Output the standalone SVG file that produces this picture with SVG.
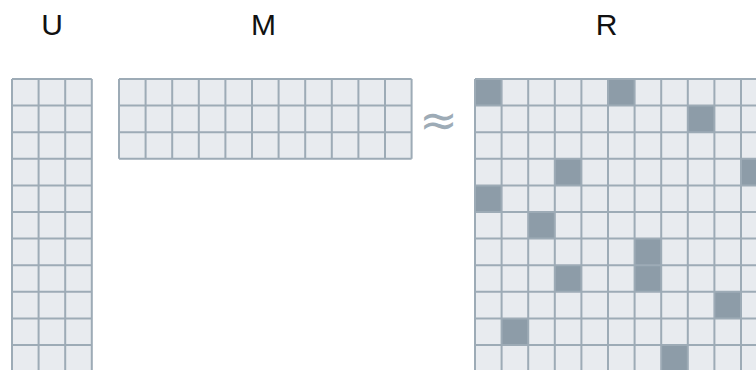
<svg xmlns="http://www.w3.org/2000/svg" width="756" height="370" viewBox="0 0 756 370">
<style>
.bg{fill:#e8ebef}
.dk{fill:#8d9ca8}
.ln{fill:none;stroke:#9dabb6;stroke-width:2}
.lbl{font-family:"Liberation Sans",Arial,sans-serif;font-size:30px;fill:#111;text-anchor:middle}
.op{font-family:"DejaVu Sans","Liberation Sans",sans-serif;font-size:46px;fill:#9dabb6;text-anchor:middle}
</style>
<rect width="756" height="370" fill="#fff"/>
<g id="label-U"><text class="lbl" x="52" y="35">U</text></g>
<g id="label-M"><text class="lbl" x="263.5" y="35">M</text></g>
<g id="label-R"><text class="lbl" x="606.5" y="35">R</text></g>
<g id="U">
<rect class="bg" x="12" y="79" width="79.8" height="292.6"/>
<path class="ln" d="M12 79V371.6M38.6 79V371.6M65.2 79V371.6M91.8 79V371.6M12 79H91.8M12 105.6H91.8M12 132.2H91.8M12 158.8H91.8M12 185.4H91.8M12 212H91.8M12 238.6H91.8M12 265.2H91.8M12 291.8H91.8M12 318.4H91.8M12 345H91.8M12 371.6H91.8"/>
</g>
<g id="M">
<rect class="bg" x="119" y="79" width="292.6" height="79.8"/>
<path class="ln" d="M119 79V158.8M145.6 79V158.8M172.2 79V158.8M198.8 79V158.8M225.4 79V158.8M252 79V158.8M278.6 79V158.8M305.2 79V158.8M331.8 79V158.8M358.4 79V158.8M385 79V158.8M411.6 79V158.8M119 79H411.6M119 105.6H411.6M119 132.2H411.6M119 158.8H411.6"/>
</g>
<g id="approx"><text class="op" x="438.5" y="136">≈</text></g>
<g id="R">
<rect class="bg" x="475" y="79" width="292.6" height="292.6"/>
<rect class="dk" x="475" y="79" width="26.6" height="26.6"/>
<rect class="dk" x="608" y="79" width="26.6" height="26.6"/>
<rect class="dk" x="687.8" y="105.6" width="26.6" height="26.6"/>
<rect class="dk" x="554.8" y="158.8" width="26.6" height="26.6"/>
<rect class="dk" x="741" y="158.8" width="26.6" height="26.6"/>
<rect class="dk" x="475" y="185.4" width="26.6" height="26.6"/>
<rect class="dk" x="528.2" y="212" width="26.6" height="26.6"/>
<rect class="dk" x="634.6" y="238.6" width="26.6" height="26.6"/>
<rect class="dk" x="554.8" y="265.2" width="26.6" height="26.6"/>
<rect class="dk" x="634.6" y="265.2" width="26.6" height="26.6"/>
<rect class="dk" x="714.4" y="291.8" width="26.6" height="26.6"/>
<rect class="dk" x="501.6" y="318.4" width="26.6" height="26.6"/>
<rect class="dk" x="661.2" y="345" width="26.6" height="26.6"/>
<path class="ln" d="M475 79V371.6M501.6 79V371.6M528.2 79V371.6M554.8 79V371.6M581.4 79V371.6M608 79V371.6M634.6 79V371.6M661.2 79V371.6M687.8 79V371.6M714.4 79V371.6M741 79V371.6M767.6 79V371.6M475 79H767.6M475 105.6H767.6M475 132.2H767.6M475 158.8H767.6M475 185.4H767.6M475 212H767.6M475 238.6H767.6M475 265.2H767.6M475 291.8H767.6M475 318.4H767.6M475 345H767.6M475 371.6H767.6"/>
</g>
</svg>
